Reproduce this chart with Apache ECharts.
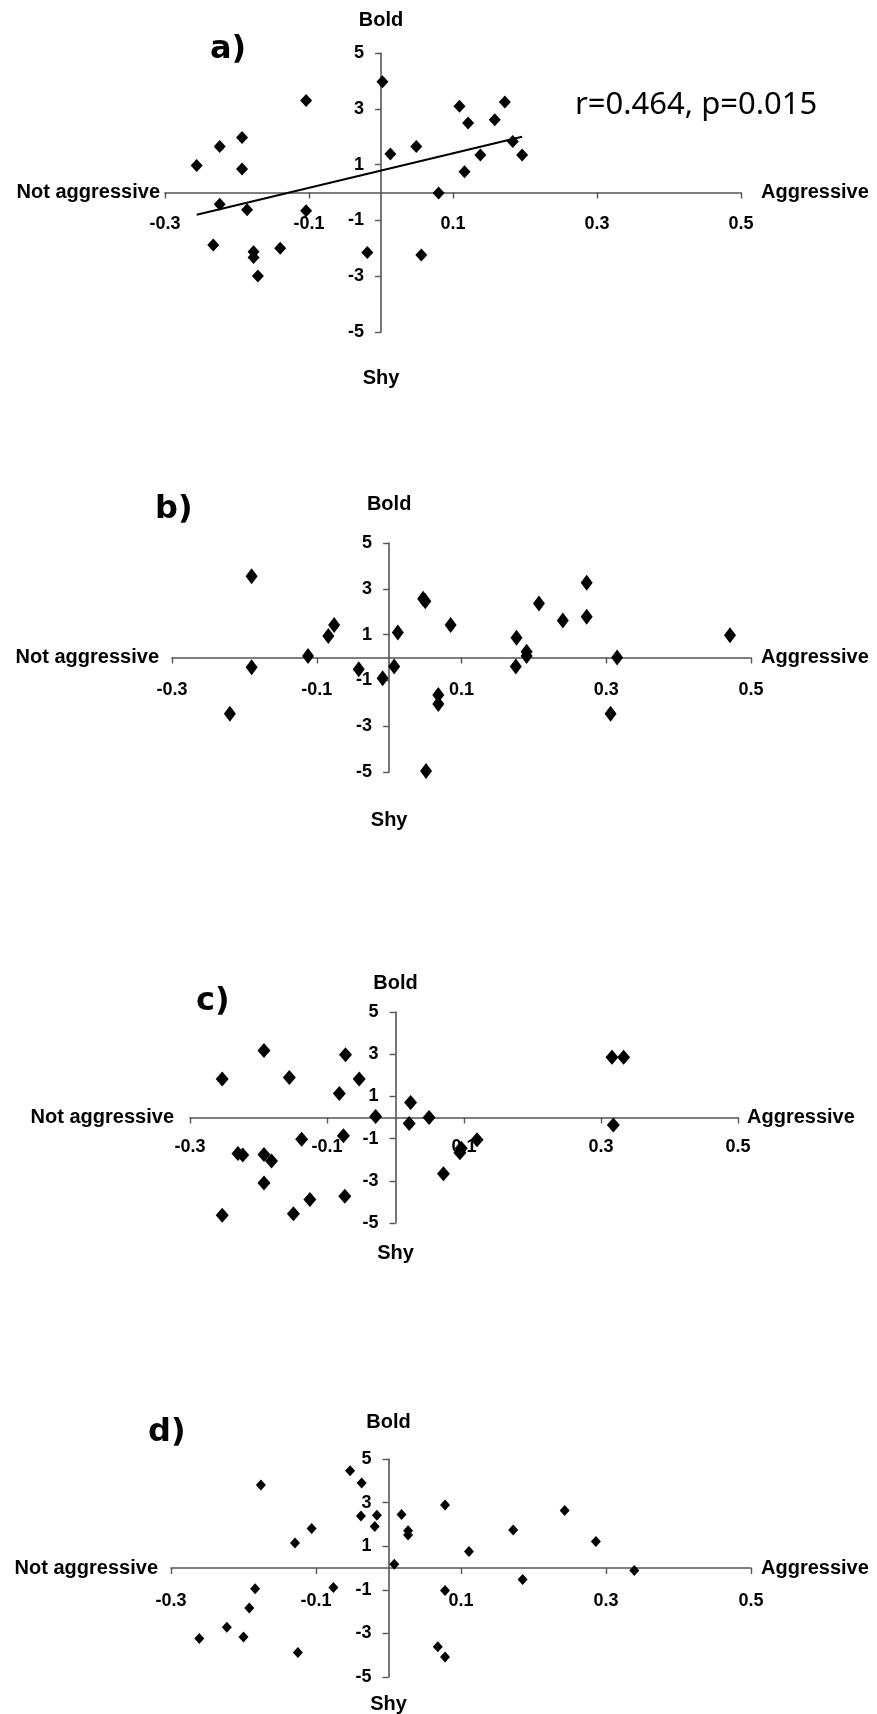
<!DOCTYPE html>
<html><head><meta charset="utf-8">
<script src="https://cdn.jsdelivr.net/npm/echarts@6/dist/echarts.min.js"></script>
<style>html,body{margin:0;padding:0;background:#fff}#c{width:877px;height:1714px}</style>
</head><body><div id="c"></div>
<script>
// ---------- data ----------
const panelLabels = ['a)', 'b)', 'c)', 'd)'];
const xTicks = [-0.3, -0.1, 0.1, 0.3, 0.5];
const yTicks = [5, 3, 1, -1, -3, -5];
const xNameLow = 'Not aggressive', xNameHigh = 'Aggressive';
const yNameHigh = 'Bold', yNameLow = 'Shy';
const statsText = 'r=0.464, p=0.015';

const aX = [-0.256, -0.224, -0.224, -0.233, -0.193, -0.193, -0.186, -0.177, -0.177, -0.171, -0.140, -0.104, -0.104, -0.019, 0.002, 0.013, 0.049, 0.056, 0.080, 0.109, 0.121, 0.116, 0.138, 0.158, 0.172, 0.183, 0.196];
const aY = [0.97, 1.65, -0.42, -1.88, 1.97, 0.84, -0.62, -2.12, -2.33, -2.99, -2.00, 3.30, -0.65, -2.15, 3.97, 1.38, 1.65, -2.24, -0.02, 3.09, 2.49, 0.74, 1.34, 2.61, 3.24, 1.83, 1.34];

const bX = [-0.190, -0.190, -0.220, -0.112, -0.084, -0.076, -0.042, -0.009, 0.007, 0.012, 0.047, 0.050, 0.051, 0.068, 0.068, 0.085, 0.176, 0.175, 0.190, 0.190, 0.207, 0.240, 0.273, 0.273, 0.306, 0.315, 0.471];
const bY = [3.55, -0.43, -2.46, 0.07, 0.94, 1.42, -0.51, -0.91, -0.39, 1.09, 2.57, 2.46, -4.96, -1.64, -2.03, 1.42, 0.86, -0.39, 0.25, 0.07, 2.36, 1.62, 3.26, 1.78, -2.46, 0.00, 0.97];

const cX = [-0.253, -0.253, -0.230, -0.223, -0.192, -0.192, -0.192, -0.181, -0.155, -0.149, -0.137, -0.125, -0.082, -0.076, -0.074, -0.073, -0.053, -0.029, 0.020, 0.022, 0.049, 0.070, 0.094, 0.096, 0.119, 0.316, 0.333, 0.318];
const cY = [1.83, -4.63, -1.71, -1.78, 3.17, -1.75, -3.10, -2.06, 1.90, -4.56, -1.03, -3.89, 1.14, -0.87, -3.73, 2.97, 1.83, 0.05, -0.29, 0.71, 0.00, -2.67, -1.67, -1.46, -1.06, 2.86, 2.86, -0.35];

const dX = [-0.261, -0.223, -0.200, -0.192, -0.184, -0.176, -0.129, -0.125, -0.106, -0.076, -0.053, -0.038, -0.037, -0.019, -0.016, 0.008, 0.018, 0.027, 0.027, 0.068, 0.078, 0.078, 0.078, 0.111, 0.172, 0.185, 0.243, 0.286, 0.339];
const dY = [-3.23, -2.72, -3.16, -1.84, -0.95, 3.81, 1.15, -3.88, 1.81, -0.89, 4.46, 2.39, 3.90, 1.90, 2.42, 0.17, 2.45, 1.71, 1.51, -3.61, 2.89, -1.03, -4.08, 0.76, 1.74, -0.53, 2.64, 1.21, -0.11];

const panelX = [aX, bX, cX, dX];
const panelY = [aY, bY, cY, dY];

// ---------- layout / style ----------
const X_MIN = -0.3, X_MAX = 0.5, Y_MIN = -5, Y_MAX = 5;
const layouts = [
  {left:165, width:576, top:53,   height:279, gapLow:5,  gapHigh:20, gapBold:23, gapShy:36, lblMargin:23, sym:[12,13], tl:210, tt:34},
  {left:172, width:579, top:543,  height:229, gapLow:13, gapHigh:10, gapBold:29, gapShy:38, lblMargin:24, sym:[12,16], tl:155, tt:494},
  {left:190, width:548, top:1012, height:211, gapLow:16, gapHigh:9,  gapBold:19, gapShy:20, lblMargin:21, sym:[13,15], tl:196, tt:986},
  {left:171, width:580, top:1459, height:218, gapLow:13, gapHigh:10, gapBold:27, gapShy:17, lblMargin:24, sym:[10,11], tl:148, tt:1417}
];
const FONT = '"Liberation Sans", Arial, sans-serif';
const axisColor = '#555';
const nameStyle = {fontFamily: FONT, fontWeight: 'bold', fontSize: 20, color: '#000'};
const tickLblStyle = {fontFamily: FONT, fontWeight: 'bold', fontSize: 18, color: '#000'};

function regression(xs, ys) {
  const n = xs.length;
  let sx = 0, sy = 0, sxx = 0, sxy = 0;
  for (let i = 0; i < n; i++) { sx += xs[i]; sy += ys[i]; sxx += xs[i]*xs[i]; sxy += xs[i]*ys[i]; }
  const b = (n*sxy - sx*sy) / (n*sxx - sx*sx);
  const a = (sy - b*sx) / n;
  const x0 = Math.min.apply(null, xs), x1 = Math.max.apply(null, xs);
  return [[x0, a + b*x0], [x1, a + b*x1]];
}

const grid = [], xAxis = [], yAxis = [], series = [], title = [];
layouts.forEach((L, i) => {
  grid.push({left: L.left, width: L.width, top: L.top, height: L.height, outerBoundsMode: 'none', containLabel: false});
  // axes cross at (0,0): shift each axis from the grid edge to the zero line
  const xOff = -L.height * (0 - Y_MIN) / (Y_MAX - Y_MIN);
  const yOff = -L.width * (0 - X_MIN) / (X_MAX - X_MIN);
  const xi = xAxis.length, yi = yAxis.length;
  xAxis.push({
    gridIndex: i, type: 'value', min: X_MIN, max: X_MAX, interval: 0.1, position: 'bottom', offset: xOff,
    axisLine: {show: true, onZero: false, lineStyle: {color: axisColor, width: 1.6}},
    axisTick: {show: true, length: 6, customValues: xTicks, lineStyle: {color: axisColor, width: 1.4}},
    axisLabel: {show: true, customValues: xTicks, margin: L.lblMargin, ...tickLblStyle,
      formatter: v => String(Math.round(v*10)/10)},
    splitLine: {show: false},
    name: xNameHigh, nameLocation: 'end', nameGap: L.gapHigh, nameTextStyle: nameStyle, nameMoveOverlap: false
  });
  xAxis.push({
    gridIndex: i, type: 'value', min: X_MIN, max: X_MAX, interval: 0.1, position: 'bottom', offset: xOff,
    axisLine: {show: false, onZero: false},
    axisTick: {show: false}, axisLabel: {show: false}, splitLine: {show: false},
    name: xNameLow, nameLocation: 'start', nameGap: L.gapLow, nameTextStyle: nameStyle, nameMoveOverlap: false
  });
  yAxis.push({
    gridIndex: i, type: 'value', min: Y_MIN, max: Y_MAX, interval: 1, position: 'left', offset: yOff,
    axisLine: {show: true, onZero: false, lineStyle: {color: axisColor, width: 1.6}},
    axisTick: {show: true, length: 6, customValues: yTicks, lineStyle: {color: axisColor, width: 1.4}},
    axisLabel: {show: true, customValues: yTicks, margin: 17, ...tickLblStyle},
    splitLine: {show: false},
    name: yNameHigh, nameLocation: 'end', nameGap: L.gapBold, nameTextStyle: nameStyle, nameMoveOverlap: false
  });
  yAxis.push({
    gridIndex: i, type: 'value', min: Y_MIN, max: Y_MAX, interval: 1, position: 'left', offset: yOff,
    axisLine: {show: false, onZero: false},
    axisTick: {show: false}, axisLabel: {show: false}, splitLine: {show: false},
    name: yNameLow, nameLocation: 'start', nameGap: L.gapShy, nameTextStyle: nameStyle, nameMoveOverlap: false
  });
  const xs = panelX[i], ys = panelY[i];
  series.push({
    type: 'scatter', xAxisIndex: xi, yAxisIndex: yi, symbol: 'diamond', symbolSize: L.sym,
    itemStyle: {color: '#000', opacity: 1}, silent: true, z: 5,
    data: xs.map((x, k) => [x, ys[k]])
  });
  if (i === 0) {
    series.push({
      type: 'line', xAxisIndex: xi, yAxisIndex: yi, symbol: 'none', silent: true, z: 4,
      lineStyle: {color: '#000', width: 2}, data: regression(xs, ys)
    });
  }
  title.push({text: panelLabels[i], left: L.tl, top: L.tt, padding: 0,
    textStyle: {fontFamily: '"DejaVu Sans", Verdana, sans-serif', fontWeight: 'bold', fontSize: 32, color: '#000'}});
});
title.push({text: statsText, left: 575, top: 90, padding: 0,
  textStyle: {fontFamily: '"Noto Sans", "Open Sans", sans-serif', fontWeight: 'normal', fontSize: 31, color: '#000'}});

const chart = echarts.init(document.getElementById('c'), null, {renderer: 'canvas', width: 877, height: 1714});
chart.setOption({
  animation: false, backgroundColor: '#fff',
  title, grid, xAxis, yAxis, series, tooltip: {show: false}
});
</script></body></html>
